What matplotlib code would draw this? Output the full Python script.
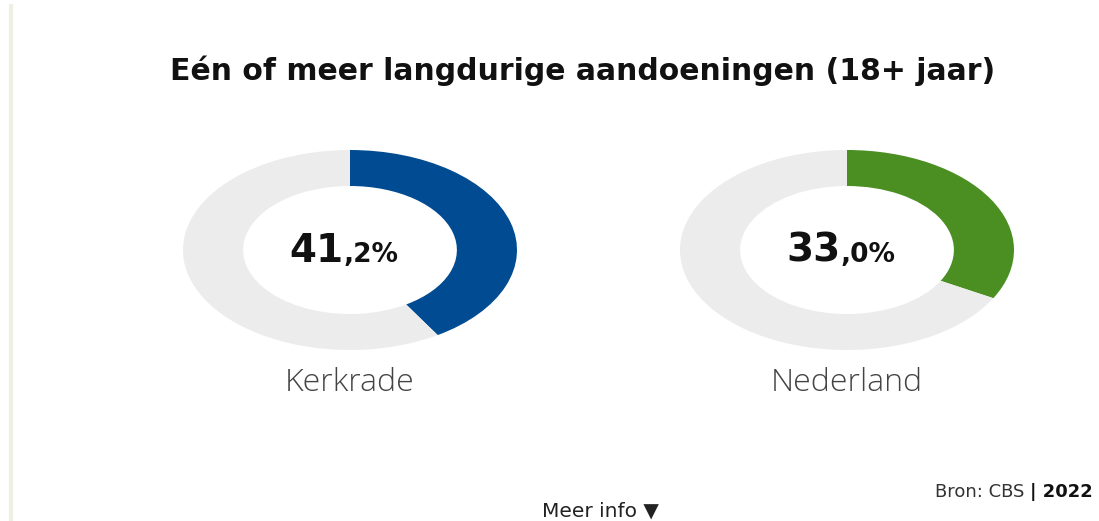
import matplotlib
matplotlib.use('Agg')
import matplotlib.pyplot as plt
from matplotlib.lines import Line2D

# Data
regions = ['Kerkrade', 'Nederland']
values = [41.2, 33.0]
colors = ['#004b91', '#4b8f22']
rest_color = '#ececec'
title = 'Eén of meer langdurige aandoeningen (18+ jaar)'
source = 'Bron: CBS '
year = '| 2022'

W, H = 1099, 521
fig = plt.figure(figsize=(W / 100, H / 100), dpi=100)
fig.patch.set_facecolor('white')

# thin left border of the card
fig.add_artist(Line2D([10.5 / W, 10.5 / W], [0, 1 - 6 / H], color='#eef0e4', lw=3))

fig.text(583 / W, 1 - 71 / H, title, ha='center', va='center',
         fontsize=21.5, fontweight='bold', color='#111111')

centers = [350, 847]   # donut centres in pixels (x)
cy = 250
rx, ry = 167, 100

for cx, name, val, col in zip(centers, regions, values, colors):
    ax = fig.add_axes([(cx - rx * 1.1) / W, (H - cy - ry * 1.1) / H,
                       2.2 * rx / W, 2.2 * ry / H])
    ax.pie([val, 100 - val], colors=[col, rest_color], startangle=90,
           counterclock=False, radius=1.0,
           wedgeprops=dict(width=0.36, edgecolor='none'))
    ax.set_aspect('auto')
    ax.set_xlim(-1.1, 1.1)
    ax.set_ylim(-1.1, 1.1)
    ax.axis('off')

    whole, frac = f'{val:.1f}'.split('.')
    ax.text(-0.04, -0.12, whole, ha='right', va='baseline',
            fontsize=28, fontweight='bold', color='#111111')
    ax.text(-0.04, -0.12, ',' + frac + '%', ha='left', va='baseline',
            fontsize=19, fontweight='bold', color='#111111')

    fig.text(cx / W, 1 - 383 / H, name, ha='center', va='center',
             fontsize=23, color='#444444', family=['Open Sans', 'DejaVu Sans'],
             fontweight='light')

# source line
fig.text(1030 / W, 1 - 492 / H, source, ha='right', va='center',
         fontsize=13, color='#333333')
fig.text(1030 / W, 1 - 492 / H, year, ha='left', va='center',
         fontsize=13, fontweight='bold', color='#111111')

fig.text(600 / W, 1 - 511 / H, 'Meer info \u25BC', ha='center', va='center',
         fontsize=14.5, color='#222222')

fig.savefig('out.png', dpi=100)
